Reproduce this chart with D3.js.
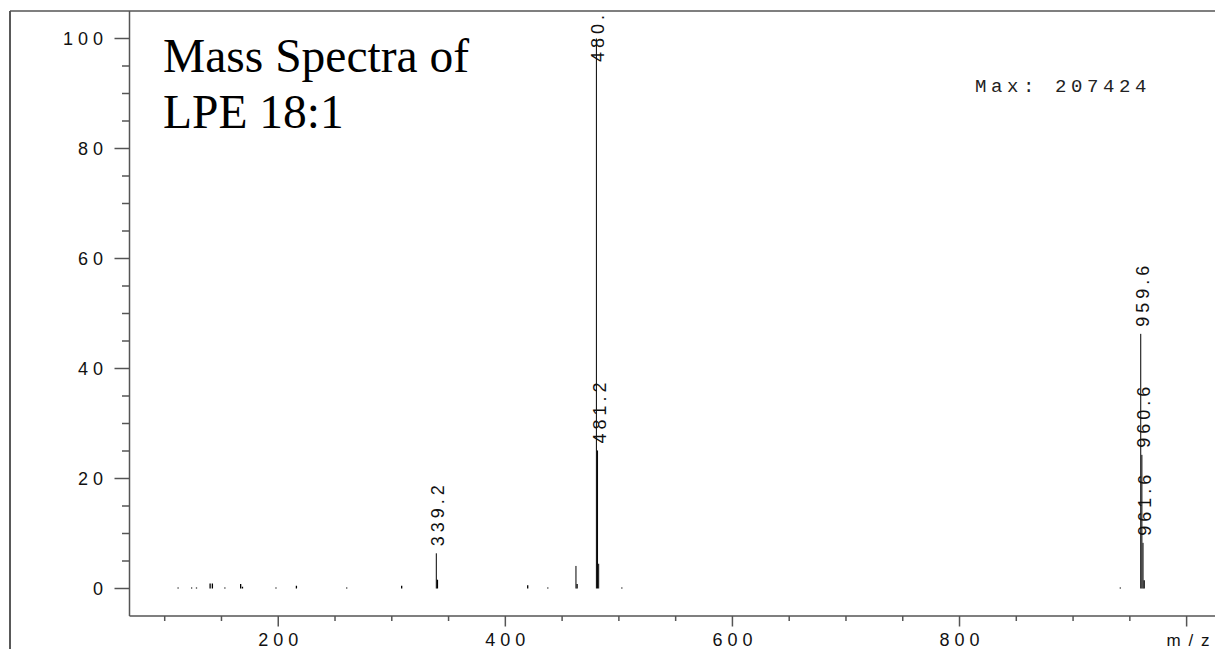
<!DOCTYPE html>
<html>
<head>
<meta charset="utf-8">
<script src="https://d3js.org/d3.v7.min.js"></script>
<style>
	body { margin: 0; background: #fff; }
	svg { display: block; }
</style>
</head>
<body>
<svg id="body" width="1215" height="649"></svg>
<script>
let body = d3.select("#body")

//peaks (m/z and relative intensity %)
let peakMz = [111.8, 123.7, 128.0, 140.0, 142.0, 153.0, 166.9, 168.5, 198.0, 216.0, 260.3, 308.7,
	339.2, 340.2, 419.7, 437.4, 462.2, 463.2, 480.2, 481.2, 482.2, 502.6, 941.6, 959.6, 960.6, 961.6, 962.6]
let peakIntensity = [0.2, 0.2, 0.2, 0.9, 0.9, 0.2, 0.8, 0.3, 0.2, 0.5, 0.2, 0.5,
	6.4, 1.6, 0.6, 0.2, 4.1, 0.8, 100, 25.1, 4.5, 0.2, 0.2, 46.3, 24.3, 8.3, 1.5]

//peaks that get a m/z label
let labelledPeaks = [339.2, 480.2, 481.2, 959.6, 960.6, 961.6]

//axis ticks
let yMajorTicks = [0, 20, 40, 60, 80, 100]
let yMinorTicks = d3.range(0, 101, 5)
let xMajorTicks = [200, 400, 600, 800, 1000]
let xTickLabels = ["200", "400", "600", "800", "m / z"]
let xMinorTicks = d3.range(100, 1001, 50)

let titleLines = ["Mass Spectra of", "LPE 18:1"]
let maxText = "Max: 207424"

let data = peakMz.map((d, i) => ({mz: d, value: peakIntensity[i]}))

//plot area
let plotLeft = 129.5, plotRight = 1215, plotTop = 11, plotBottom = 616

let xscale = d3.scaleLinear()
	.domain([69, 1025])
	.range([plotLeft, plotRight])

let yscale = d3.scaleLinear()
	.domain([-5, 105])
	.range([plotBottom, plotTop])

let axisColor = "#555"

//outer frame
body.append("line")
	.attr("x1", 10).attr("x2", 10)
	.attr("y1", 11).attr("y2", 649)
	.attr("stroke", "#222").attr("stroke-width", 1.5)

body.append("line")
	.attr("x1", 10).attr("x2", 1215)
	.attr("y1", 11).attr("y2", 11)
	.attr("stroke", axisColor).attr("stroke-width", 1.5)

//clip for peaks and their labels (the base peak label runs off the top, as in the original)
body.append("clipPath")
	.attr("id", "plotclip")
	.append("rect")
	.attr("x", plotLeft).attr("y", plotTop + 1)
	.attr("width", plotRight - plotLeft).attr("height", plotBottom - plotTop)

//y axis
let yAxis = body.append("g")
yAxis.append("line")
	.attr("x1", plotLeft).attr("x2", plotLeft)
	.attr("y1", plotTop).attr("y2", plotBottom)
	.attr("stroke", axisColor).attr("stroke-width", 1.5)

yAxis.selectAll(".yminor")
	.data(yMinorTicks)
	.enter()
	.append("line")
	.attr("x1", d => yMajorTicks.includes(d) ? plotLeft - 15 : plotLeft - 7.5)
	.attr("x2", plotLeft)
	.attr("y1", d => yscale(d)).attr("y2", d => yscale(d))
	.attr("stroke", axisColor).attr("stroke-width", 1.5)

yAxis.selectAll(".ylabel")
	.data(yMajorTicks)
	.enter()
	.append("text")
	.attr("x", 108)
	.attr("y", d => yscale(d))
	.attr("dy", "0.36em")
	.attr("text-anchor", "end")
	.style("font-family", "Liberation Sans, Arial, sans-serif")
	.style("font-size", "18px")
	.style("letter-spacing", "5px")
	.attr("fill", "#111")
	.text(d => d)

//x axis
let xAxis = body.append("g")
xAxis.append("line")
	.attr("x1", plotLeft).attr("x2", plotRight)
	.attr("y1", plotBottom).attr("y2", plotBottom)
	.attr("stroke", axisColor).attr("stroke-width", 1.5)

xAxis.selectAll(".xminor")
	.data(xMinorTicks)
	.enter()
	.append("line")
	.attr("x1", d => xscale(d)).attr("x2", d => xscale(d))
	.attr("y1", plotBottom)
	.attr("y2", d => xMajorTicks.includes(d) ? plotBottom + 10.5 : plotBottom + 5)
	.attr("stroke", axisColor).attr("stroke-width", 1.5)

//last major tick carries the unit instead of a number
xAxis.selectAll(".xlabel")
	.data(xMajorTicks)
	.enter()
	.append("text")
	.attr("x", (d, i) => i === 4 ? xscale(d) - 20 : xscale(d) + 2.5)
	.attr("y", 646)
	.attr("text-anchor", (d, i) => i === 4 ? "start" : "middle")
	.style("font-family", "Liberation Sans, Arial, sans-serif")
	.style("font-size", (d, i) => i === 4 ? "17px" : "18px")
	.style("letter-spacing", (d, i) => i === 4 ? "1.5px" : "5px")
	.attr("fill", "#111")
	.text((d, i) => xTickLabels[i])

//peaks
let plot = body.append("g")
	.attr("clip-path", "url(#plotclip)")

plot.selectAll(".peak")
	.data(data)
	.enter()
	.append("line")
	.attr("x1", d => xscale(d.mz)).attr("x2", d => xscale(d.mz))
	.attr("y1", yscale(0))
	.attr("y2", d => yscale(d.value))
	.attr("stroke", "#000")
	.attr("stroke-width", d => d.value < 2 ? 1.3 : 1)

//peak labels, rotated, starting just above the peak (kept inside the frame)
plot.selectAll(".plabel")
	.data(data.filter(d => labelledPeaks.includes(d.mz)))
	.enter()
	.append("text")
	.attr("transform", d => {
		let ly = Math.max(yscale(d.value) - 7, 62)
		return "translate(" + (xscale(d.mz) + 1.5) + "," + ly + ") rotate(-90)"
	})
	.attr("dy", "0.36em")
	.attr("text-anchor", "start")
	.style("font-family", "Liberation Sans, Arial, sans-serif")
	.style("font-size", "18px")
	.style("letter-spacing", "4px")
	.attr("fill", "#111")
	.text(d => d.mz.toFixed(1))

//title
body.append("text")
	.attr("x", 163)
	.attr("y", 71.5)
	.style("font-family", "Liberation Serif, Times New Roman, serif")
	.style("font-size", "47.5px")
	.attr("fill", "#000")
	.selectAll("tspan")
	.data(titleLines)
	.enter()
	.append("tspan")
	.attr("x", 163)
	.attr("dy", (d, i) => i === 0 ? 0 : 56.5)
	.text(d => d)

//max intensity
body.append("text")
	.attr("x", 975)
	.attr("y", 91.5)
	.style("font-family", "Liberation Mono, Courier New, monospace")
	.style("font-size", "19px")
	.style("letter-spacing", "4.6px")
	.attr("fill", "#222")
	.text(maxText)
</script>
</body>
</html>
